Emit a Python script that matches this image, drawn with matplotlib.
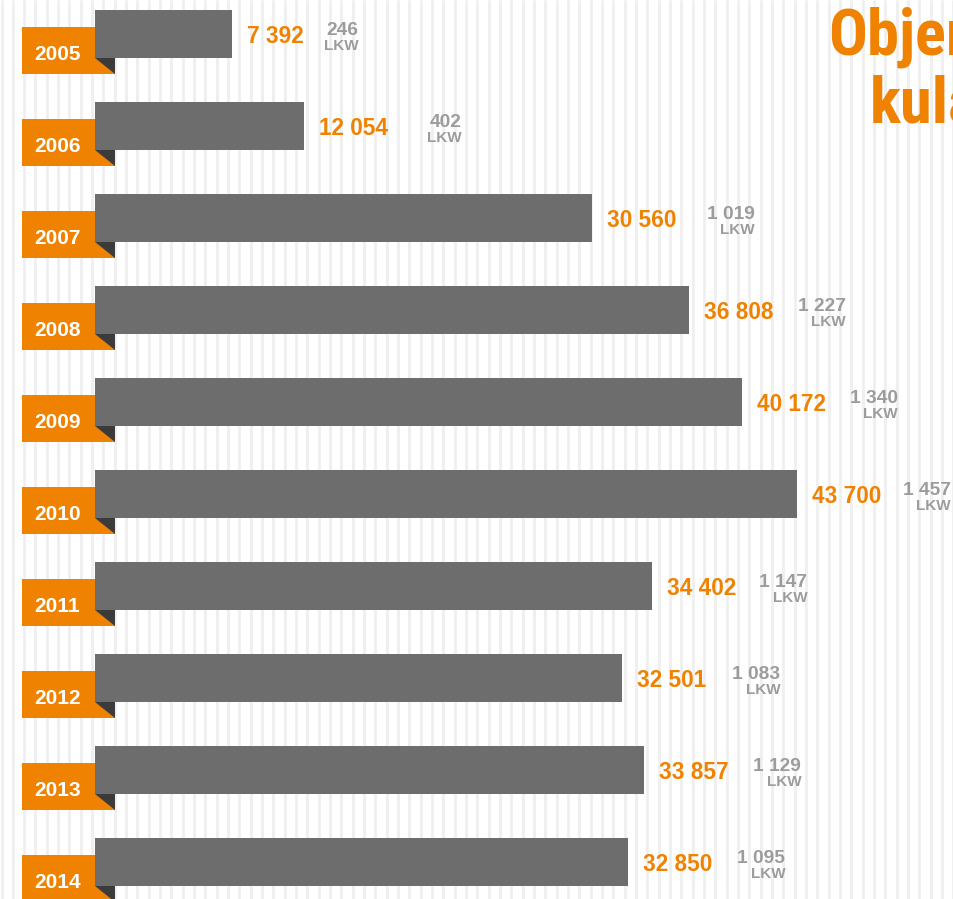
import matplotlib
matplotlib.use("Agg")
import matplotlib.pyplot as plt
import matplotlib.transforms as mtransforms
from matplotlib.patches import Rectangle, Polygon
from matplotlib import font_manager
import numpy as np

# ---------------- data ----------------
years = ["2005", "2006", "2007", "2008", "2009", "2010", "2011", "2012", "2013", "2014"]
volume = [7392, 12054, 30560, 36808, 40172, 43700, 34402, 32501, 33857, 32850]
trucks = [246, 402, 1019, 1227, 1340, 1457, 1147, 1083, 1129, 1095]
truck_unit = "LKW"
title_lines = ["Objem", "kulatiny"]

# ---------------- style ----------------
ORANGE = "#EF8200"
BAR = "#6D6D6D"
DARK = "#3B3B3B"
GREY_TXT = "#9C9C9C"
STRIPE = "#EFEFEF"
# pixel distance from end of orange label to right edge of the grey truck block
lkw_right_gap = [55, 73, 78, 72, 72, 70, 71, 74, 73, 73]

W, H, DPI = 954, 899, 100
fonts = font_manager.fontManager.ttflist
names = {f.name for f in fonts}
MAIN = "Liberation Sans" if "Liberation Sans" in names else "DejaVu Sans"
TITLE_KW = dict(family=MAIN)
for cand in ["Roboto Condensed", "Liberation Sans Narrow"]:
    if cand in names:
        TITLE_KW = dict(family=cand)
        break
else:
    if any(f.name == "DejaVu Sans" and f.stretch == "condensed" for f in fonts):
        TITLE_KW = dict(family="DejaVu Sans", fontstretch="condensed")

def fmt(v):
    return f"{v:,}".replace(",", " ")

fig = plt.figure(figsize=(W / DPI, H / DPI), dpi=DPI)
fig.patch.set_facecolor("white")
ax = fig.add_axes([0, 0, 1, 1])
ax.set_axis_off()

# pixel mapping: x_px = X0 + PX_PER_UNIT * value ; row centres at 34 + 92*i
X0 = 116.7
PX_PER_UNIT = 0.015561
ROW_PX = 92.0
ax.set_xlim(-X0 / PX_PER_UNIT, (W - X0) / PX_PER_UNIT)
ax.set_ylim((H - 34) / ROW_PX, -34 / ROW_PX)

rows = np.arange(len(years))
blend = mtransforms.blended_transform_factory(ax.transAxes, ax.transData)

# background stripes
stripe_x = np.arange(1.5, W, 11.33) / W
ax.vlines(stripe_x, 0, 1, transform=ax.transAxes, colors=STRIPE,
          linewidth=2.8 * 72 / DPI, zorder=0)

bar_left = (95 - X0) / PX_PER_UNIT
bar_h = 48 / ROW_PX

# orange year tabs
for r in rows:
    ax.add_patch(Rectangle((22 / W, r - 7 / ROW_PX), (115 - 22) / W, 47 / ROW_PX,
                           transform=blend, facecolor=ORANGE, edgecolor="none", zorder=1))

# bars
ax.barh(rows, np.array(volume) - bar_left, left=bar_left, height=bar_h,
        color=BAR, edgecolor="none", zorder=2)

# dark fold triangles
for r in rows:
    ax.add_patch(Polygon([(95 / W, r + 23.7 / ROW_PX), (115 / W, r + 23.7 / ROW_PX),
                          (115 / W, r + 40 / ROW_PX)], closed=True, transform=blend,
                         facecolor=DARK, edgecolor="none", zorder=3))

for r, y, v, t, g in zip(rows, years, volume, trucks, lkw_right_gap):
    ax.annotate(y, xy=(57.5 / W, r), xycoords=blend, xytext=(0, -26),
                textcoords="offset pixels", ha="center", va="baseline",
                color="white", fontsize=15, fontweight="bold", family=MAIN, zorder=4)
    vt = ax.annotate(fmt(v), xy=(v, r), xycoords="data", xytext=(15, -9),
                     textcoords="offset pixels", ha="left", va="baseline",
                     color=ORANGE, fontsize=16.3, fontweight="bold", family=MAIN, zorder=4)
    nt = ax.annotate(fmt(t), xy=(1, r), xycoords=(vt, "data"), xytext=(g, -1),
                     textcoords="offset pixels", ha="right", va="baseline",
                     color=GREY_TXT, fontsize=13.8, fontweight="bold", family=MAIN, zorder=4)
    ax.annotate(truck_unit, xy=(1, r), xycoords=(nt, "data"), xytext=(0, -16),
                textcoords="offset pixels", ha="right", va="baseline",
                color=GREY_TXT, fontsize=11, fontweight="bold", family=MAIN, zorder=4)

# title (cut at the right edge as in the reference)
fig.text(828 / W, 1 - 55 / H, title_lines[0], ha="left", va="baseline",
         color=ORANGE, fontsize=46.5, fontweight="bold", **TITLE_KW)
fig.text(870 / W, 1 - 122.5 / H, title_lines[1], ha="left", va="baseline",
         color=ORANGE, fontsize=46.5, fontweight="bold", **TITLE_KW)

fig.savefig("out.png", dpi=DPI, facecolor="white")
